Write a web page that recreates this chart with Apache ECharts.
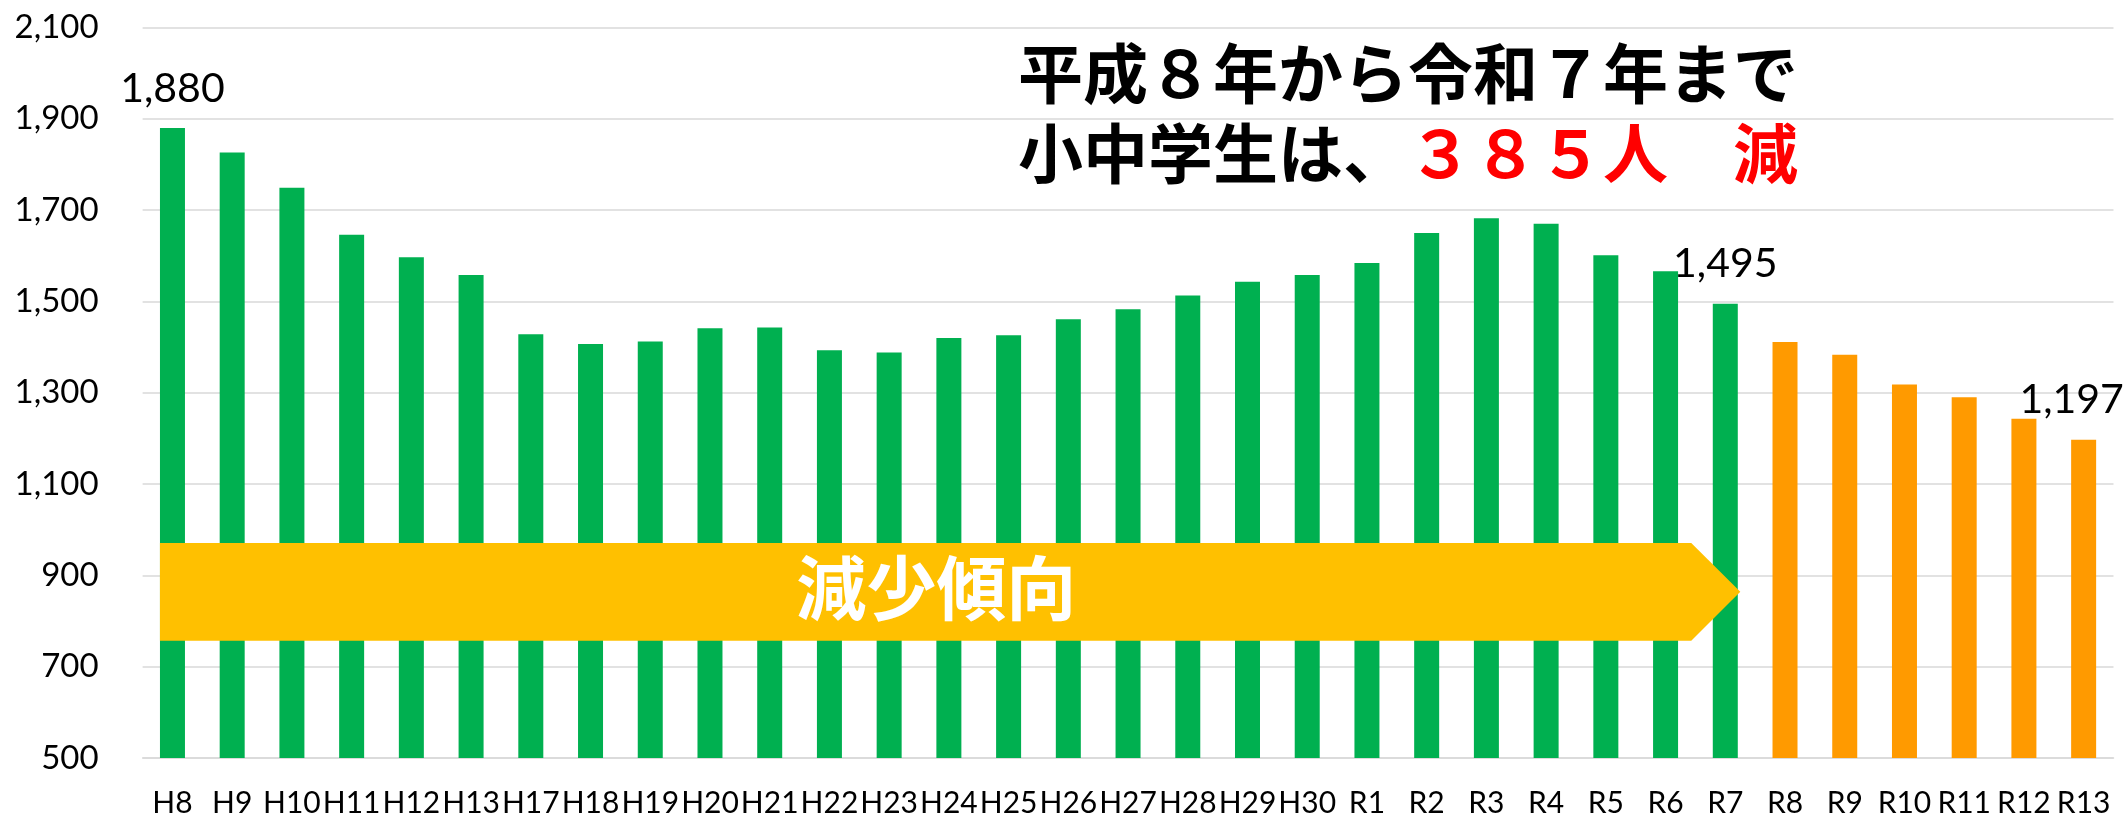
<!DOCTYPE html>
<html>
<head>
<meta charset="utf-8">
<script src="https://cdn.jsdelivr.net/npm/echarts@6/dist/echarts.min.js"></script>
<style>
html,body{margin:0;padding:0;background:#fff;}
#c{width:2127px;height:818px;}
</style>
</head>
<body>
<div id="c"></div>
<script>
// ---- data ----
const categories = ['H8','H9','H10','H11','H12','H13','H17','H18','H19','H20','H21','H22','H23','H24','H25','H26','H27','H28','H29','H30','R1','R2','R3','R4','R5','R6','R7','R8','R9','R10','R11','R12','R13'];
const actualValues = [1880,1826,1749,1646,1597,1558,1428,1407,1412,1441,1443,1393,1388,1420,1426,1461,1483,1513,1543,1558,1584,1650,1682,1670,1601,1566,1495];
const projectedValues = [1411,1383,1318,1290,1243,1197];
const yMin = 500, yMax = 2100, yStep = 200;
const labeledCategories = ['H8','R7','R13'];
const titleLine1 = '平成８年から令和７年まで';
const titleLine2a = '小中学生は、';
const titleLine2b = '３８５人　減';
const arrowText = '減少傾向';
const arrowFrom = 'H8', arrowTo = 'R7', arrowTextNear = 'H23';
const arrowLow = 757, arrowHigh = 971;

// ---- chart ----
const fmt = v => String(v).replace(/\B(?=(\d{3})+(?!\d))/g, ',');
const latin = 'Lato, "Liberation Sans", sans-serif';
const cjk = '"Noto Sans CJK JP", sans-serif';
const nA = actualValues.length;

function makeItem(cat, v) {
  const item = { value: v };
  if (labeledCategories.includes(cat)) {
    item.label = { show: true };
    if (cat === categories[categories.length - 1]) item.label.offset = [-12, 0];
  }
  return item;
}
const actualData = categories.map((c, i) => i < nA ? makeItem(c, actualValues[i]) : null);
const projData = categories.map((c, i) => i >= nA ? makeItem(c, projectedValues[i - nA]) : null);

const barLabel = {
  show: false, position: 'top', distance: 19, fontSize: 41, color: '#000',
  fontFamily: latin, formatter: p => fmt(p.value)
};

const chart = echarts.init(document.getElementById('c'), null, { renderer: 'canvas' });
chart.setOption({
  animation: false,
  backgroundColor: '#fff',
  title: {
    left: 1018, top: 33, padding: 0,
    text: titleLine1 + '\n' + titleLine2a + '{r|' + titleLine2b + '}',
    textStyle: {
      fontSize: 65, fontWeight: 'bold', color: '#000', lineHeight: 80, fontFamily: cjk,
      rich: { r: { fontSize: 65, fontWeight: 'bold', color: '#FF0000', lineHeight: 80, fontFamily: cjk } }
    }
  },
  grid: { left: 142.6, right: 13.5, top: 27.5, bottom: 59.7, containLabel: false },
  xAxis: {
    type: 'category', data: categories,
    axisTick: { show: false },
    axisLine: { show: true, lineStyle: { color: '#d9d9d9', width: 1.5 } },
    axisLabel: { interval: 0, fontSize: 30, margin: 30, color: '#000', fontFamily: latin }
  },
  yAxis: {
    type: 'value', min: yMin, max: yMax, interval: yStep,
    axisLine: { show: false }, axisTick: { show: false },
    axisLabel: { fontSize: 33, margin: 44, color: '#000', fontFamily: latin, formatter: v => fmt(v) },
    splitLine: { show: true, lineStyle: { color: '#d9d9d9', width: 1.5 } }
  },
  series: [
    { type: 'bar', name: '実績', data: actualData, barWidth: 25, barGap: '-100%',
      itemStyle: { color: '#00B050' }, label: barLabel, z: 2 },
    { type: 'bar', name: '推計', data: projData, barWidth: 25, barGap: '-100%',
      itemStyle: { color: '#FF9A00' }, label: barLabel, z: 2 },
    { type: 'custom', coordinateSystem: 'cartesian2d', silent: true, z: 5,
      data: [[categories.indexOf(arrowFrom), arrowLow]],
      renderItem: function (params, api) {
        const iFrom = categories.indexOf(arrowFrom);
        const iTo = categories.indexOf(arrowTo);
        const iTxt = categories.indexOf(arrowTextNear);
        const band = api.size([1, 0])[0];
        const x0 = api.coord([iFrom, arrowLow])[0] - 12.5;
        const xTo = api.coord([iTo, arrowLow])[0];
        const xNeck = xTo - band * 0.57;
        const xTip = xTo + 15;
        const yB = api.coord([iFrom, arrowLow])[1];
        const yT = api.coord([iFrom, arrowHigh])[1];
        const yM = (yB + yT) / 2;
        const tx = api.coord([iTxt, arrowLow])[0] + band * 0.79;
        return {
          type: 'group',
          children: [
            { type: 'polygon', shape: { points: [[x0, yT], [xNeck, yT], [xTip, yM], [xNeck, yB], [x0, yB]] },
              style: { fill: '#FFC000' } },
            { type: 'text', style: { text: arrowText, x: tx, y: yM - 3, align: 'center', verticalAlign: 'middle',
              fill: '#fff', fontSize: 70, fontWeight: 'bold', fontFamily: cjk } }
          ]
        };
      }
    }
  ]
});
</script>
</body>
</html>
